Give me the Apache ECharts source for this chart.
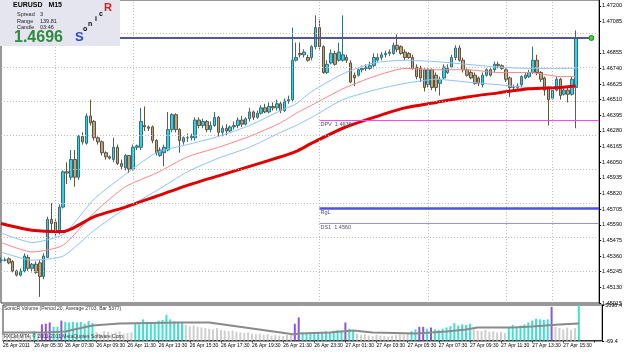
<!DOCTYPE html>
<html><head>
<meta charset="UTF-8">
<title>EURUSD M15</title>
<script src="https://cdn.jsdelivr.net/npm/echarts@6/dist/echarts.min.js"></script>
<style>html,body{margin:0;padding:0;background:#fff;}#main{width:625px;height:352px;}</style>
</head>
<body>
<div id="main"></div>
<script>
// EURUSD M15, 26 Apr 03:30 .. 27 Apr 16:30 (149 bars)
var openP = [1.4533,1.4533,1.4534,1.4532,1.4525,1.4522,1.4525,1.4535,1.4527,1.4530,
 1.4531,1.4521,1.4535,1.4563,1.4561,1.4553,1.4572,1.4598,1.4594,1.4607,
 1.4594,1.4624,1.4619,1.4639,1.4635,1.4623,1.4620,1.4612,1.4609,1.4607,
 1.4616,1.4604,1.4601,1.4610,1.4600,1.4616,1.4616,1.4632,1.4631,1.4631,
 1.4621,1.4610,1.4612,1.4614,1.4629,1.4640,1.4629,1.4620,1.4623,1.4623,
 1.4623,1.4636,1.4632,1.4635,1.4629,1.4632,1.4638,1.4627,1.4630,1.4628,
 1.4631,1.4632,1.4636,1.4633,1.4637,1.4642,1.4638,1.4641,1.4645,1.4642,
 1.4646,1.4645,1.4648,1.4643,1.4650,1.4651,1.4680,1.4685,1.4684,1.4682,
 1.4682,1.4690,1.4704,1.4690,1.4671,1.4678,1.4685,1.4680,1.4680,1.4682,
 1.4678,1.4669,1.4669,1.4673,1.4674,1.4674,1.4676,1.4680,1.4682,1.4684,
 1.4685,1.4685,1.4691,1.4690,1.4686,1.4685,1.4682,1.4675,1.4674,1.4673,
 1.4662,1.4673,1.4669,1.4663,1.4667,1.4671,1.4675,1.4682,1.4689,1.4680,
 1.4673,1.4671,1.4669,1.4667,1.4662,1.4669,1.4673,1.4673,1.4677,1.4676,
 1.4673,1.4667,1.4660,1.4660,1.4662,1.4667,1.4668,1.4671,1.4680,1.4671,
 1.4667,1.4660,1.4652,1.4658,1.4666,1.4655,1.4658,1.4655,1.4660];
var closeP = [1.4533,1.4533,1.4531,1.4525,1.4522,1.4525,1.4536,1.4527,1.4530,1.4524,
 1.4521,1.4536,1.4563,1.4560,1.4553,1.4572,1.4598,1.4597,1.4607,1.4594,
 1.4624,1.4620,1.4639,1.4634,1.4623,1.4620,1.4612,1.4609,1.4608,1.4616,
 1.4604,1.4602,1.4610,1.4600,1.4616,1.4617,1.4635,1.4631,1.4630,1.4621,
 1.4612,1.4614,1.4616,1.4629,1.4640,1.4629,1.4621,1.4623,1.4623,1.4624,
 1.4636,1.4632,1.4635,1.4629,1.4632,1.4638,1.4627,1.4630,1.4628,1.4631,
 1.4632,1.4636,1.4633,1.4637,1.4642,1.4638,1.4641,1.4645,1.4642,1.4646,
 1.4645,1.4648,1.4643,1.4650,1.4651,1.4680,1.4682,1.4684,1.4686,1.4680,
 1.4690,1.4704,1.4690,1.4671,1.4677,1.4685,1.4677,1.4686,1.4684,1.4680,
 1.4664,1.4667,1.4673,1.4674,1.4675,1.4676,1.4682,1.4682,1.4684,1.4685,
 1.4686,1.4691,1.4688,1.4685,1.4682,1.4682,1.4674,1.4668,1.4667,1.4660,
 1.4673,1.4660,1.4660,1.4666,1.4675,1.4674,1.4682,1.4689,1.4680,1.4673,
 1.4669,1.4667,1.4663,1.4663,1.4669,1.4673,1.4669,1.4677,1.4676,1.4674,
 1.4666,1.4660,1.4660,1.4661,1.4668,1.4669,1.4671,1.4680,1.4671,1.4666,
 1.4658,1.4651,1.4658,1.4666,1.4654,1.4658,1.4655,1.4666,1.46964];
var highP = [1.4535,1.4535,1.4535,1.4533,1.4526,1.4527,1.4538,1.4537,1.4531,1.4532,
 1.4533,1.4538,1.4565,1.4575,1.4563,1.4574,1.4599,1.4605,1.4614,1.4614,
 1.4625,1.4627,1.4641,1.4651,1.4636,1.4624,1.4621,1.4613,1.4610,1.4623,
 1.4618,1.4607,1.4611,1.4610,1.4618,1.4618,1.4645,1.4646,1.4632,1.4632,
 1.4622,1.4616,1.4618,1.4642,1.4641,1.4641,1.4630,1.4624,1.4626,1.4626,
 1.4638,1.4638,1.4637,1.4636,1.4635,1.4642,1.4639,1.4632,1.4633,1.4632,
 1.4635,1.4638,1.4639,1.4638,1.4645,1.4643,1.4643,1.4647,1.4648,1.4649,
 1.4649,1.4651,1.4650,1.4652,1.4654,1.4704,1.4693,1.4693,1.4688,1.4684,
 1.4691,1.4713,1.4710,1.4691,1.4680,1.4688,1.4687,1.4693,1.4713,1.4684,
 1.4680,1.4671,1.4674,1.4676,1.4677,1.4679,1.4685,1.4685,1.4686,1.4687,
 1.4688,1.4693,1.4699,1.4691,1.4688,1.4686,1.4684,1.4677,1.4676,1.4674,
 1.4674,1.4674,1.4671,1.4668,1.4677,1.4677,1.4684,1.4691,1.4691,1.4682,
 1.4674,1.4673,1.4671,1.4668,1.4671,1.4674,1.4674,1.4679,1.4679,1.4677,
 1.4674,1.4668,1.4662,1.4663,1.4669,1.4671,1.4673,1.4690,1.4684,1.4672,
 1.4668,1.4661,1.4661,1.4668,1.4667,1.4660,1.4660,1.4668,1.4702];
var lowP = [1.4531,1.4532,1.4530,1.4524,1.4521,1.4521,1.4524,1.4525,1.4524,1.4523,
 1.4506,1.4519,1.4535,1.4555,1.4551,1.4552,1.4571,1.4589,1.4592,1.4587,
 1.4592,1.4618,1.4618,1.4632,1.4621,1.4618,1.4610,1.4607,1.4607,1.4605,
 1.4603,1.4600,1.4599,1.4597,1.4599,1.4614,1.4614,1.4628,1.4628,1.4619,
 1.4610,1.4609,1.4602,1.4613,1.4627,1.4627,1.4612,1.4618,1.4620,1.4621,
 1.4621,1.4630,1.4630,1.4627,1.4627,1.4631,1.4624,1.4624,1.4625,1.4627,
 1.4629,1.4630,1.4631,1.4632,1.4635,1.4636,1.4637,1.4640,1.4641,1.4641,
 1.4643,1.4643,1.4641,1.4642,1.4648,1.4649,1.4679,1.4682,1.4682,1.4679,
 1.4680,1.4688,1.4688,1.4670,1.4670,1.4677,1.4676,1.4679,1.4679,1.4678,
 1.4663,1.4661,1.4668,1.4671,1.4672,1.4673,1.4674,1.4679,1.4680,1.4682,
 1.4683,1.4684,1.4686,1.4684,1.4680,1.4681,1.4673,1.4666,1.4664,1.4657,
 1.4660,1.4658,1.4657,1.4654,1.4666,1.4670,1.4674,1.4680,1.4679,1.4671,
 1.4668,1.4666,1.4662,1.4661,1.4660,1.4668,1.4668,1.4671,1.4674,1.4673,
 1.4664,1.4653,1.4658,1.4659,1.4660,1.4666,1.4667,1.4670,1.4669,1.4664,
 1.4654,1.4632,1.4651,1.4657,1.4651,1.4654,1.4649,1.4654,1.4630];

// moving averages / envelope, read at every few bars
var maIdx = [0,8,16,24,32,40,48,56,64,72,76,80,88,96,104,112,120,128,136,144,148];
var slowMA = [1.4560,1.4555,1.4554,1.4565,1.4572,1.4580,1.4588,1.4595,1.4602,1.4609,1.4613,1.4619,1.4630,1.4638,1.4645,1.4649,1.4653,1.4656,1.4659,1.4660,1.4661];
var fastMA = [1.4546,1.4539,1.4544,1.4568,1.4587,1.4597,1.4609,1.4616,1.4624,1.4634,1.4641,1.4647,1.4659,1.4668,1.4674,1.4673,1.4673,1.4671,1.4671,1.4668,1.4668];
var upperBand = [1.4553,1.4546,1.4552,1.4578,1.4596,1.4612,1.4618,1.4624,1.4632,1.4643,1.4648,1.4657,1.4670,1.4678,1.4680,1.4679,1.4677,1.4675,1.4674,1.4674,1.4674];
var lowerBand = [1.4539,1.4533,1.4536,1.4555,1.4571,1.4584,1.4598,1.4608,1.4616,1.4627,1.4632,1.4638,1.4651,1.4658,1.4663,1.4666,1.4664,1.4662,1.4660,1.4660,1.4660];

// SonicR volume
var vol = [900,1000,1100,800,900,1200,1000,900,1500,1000,
 2600,2700,2900,2200,2200,3200,3000,2900,3000,2900,
 3000,2700,3100,2800,1400,1100,1500,1400,1100,1300,
 1500,1100,1200,1300,2700,2600,3400,3000,2700,2700,
 3200,3300,4100,3400,3100,3000,2950,2500,2300,2400,
 2200,2100,2000,1900,1800,2000,1700,1600,1500,1600,
 1400,1300,1200,1300,1100,1000,1100,900,1000,800,
 900,800,700,900,900,2700,3700,1300,1200,1300,
 1200,1400,1300,1500,1400,1600,1700,1600,2900,1900,
 1700,1100,900,1000,800,700,900,800,700,600,
 800,900,1000,900,1100,1500,1800,2200,2200,1900,
 2100,1800,1700,1900,2100,2300,2800,2400,2600,2500,
 2700,1800,1600,1500,1700,1400,1500,1300,1400,1200,
 2200,2500,2200,2400,2600,2900,3200,3500,3400,3300,
 3400,5400,2200,2000,1800,2100,1700,2000,5698];
// g = below average, c = above average, p = climax
var volType = ['g','g','g','g','g','g','g','g','c','g',
 'p','p','p','c','c','p','c','c','c','c',
 'c','c','c','c','g','g','g','g','g','g',
 'g','g','g','g','c','c','c','c','c','c',
 'c','c','c','c','c','c','c','g','g','g',
 'g','g','g','g','g','g','g','g','g','g',
 'g','g','g','g','g','g','g','g','g','g',
 'g','g','g','g','g','p','p','c','c','c',
 'c','c','c','c','c','c','c','c','p','c',
 'c','g','g','g','g','g','g','g','g','g',
 'g','g','g','g','g','c','c','p','p','c',
 'p','c','c','c','c','c','c','c','c','c',
 'c','g','g','g','g','g','g','g','g','g',
 'c','c','c','c','c','c','c','c','c','c',
 'c','p','g','g','g','g','g','g','c'];
var avgIdx = [0,5,11,16,23,30,46,53,75,76,84,90,95,106,114,119,122,131,136,143,148];
var avgVal = [1280,1280,1280,1440,2400,2720,2880,2880,960,1120,1280,1600,1280,1120,1440,1760,2080,2080,2240,2560,2720];

var priceTicks = [1.45015,1.45130,1.45245,1.45360,1.45475,1.45590,1.45705,1.45820,1.45935,1.46050,
 1.46165,1.46280,1.46395,1.46510,1.46625,1.46740,1.46855,1.47085,1.47200];
var gridPrices = [1.4525,1.4550,1.4575,1.4600,1.4625,1.4650,1.4675,1.4700];
var gridBars = [14, 34, 82, 110, 130, 142];   // dotted vertical separators
var volTicks = [-69.4, 5698.4];
var timeLabels = ['26 Apr 2011','26 Apr 05:30','26 Apr 07:30','26 Apr 09:30','26 Apr 11:30','26 Apr 13:30',
 '26 Apr 15:30','26 Apr 17:30','26 Apr 19:30','26 Apr 21:30','26 Apr 23:30','27 Apr 01:30','27 Apr 03:30',
 '27 Apr 05:30','27 Apr 07:30','27 Apr 09:30','27 Apr 11:30','27 Apr 13:30','27 Apr 15:30'];
var lastPrice = 1.46964;
var levelNames = ['DPV  1.4636','RgL','DS1  1.4560'];
var levelPrices = [1.4636, 1.4571, 1.4560];
var dayStart = 82;    // first bar of 27 Apr
var nSlots = 155;     // bars + chart shift
var yMin = 1.45015, yMax = 1.47243;

// category axis: one slot per 15 minutes
var cats = [];
for (var i = 0; i < nSlots; i++) {
  var m = 3 * 60 + 30 + i * 15;
  var d = 26 + Math.floor(m / 1440); m = m % 1440;
  var hh = Math.floor(m / 60), mm = m % 60;
  cats.push(d + ' Apr ' + (hh < 10 ? '0' : '') + hh + ':' + (mm < 10 ? '0' : '') + mm);
}
var ohlc = [];
for (var i = 0; i < openP.length; i++) ohlc.push([openP[i], closeP[i], lowP[i], highP[i]]);
function pairs(idx, val) { var r = []; for (var i = 0; i < idx.length; i++) r.push([idx[i], val[i]]); return r; }

var volColor = {g: '#cfcfcf', c: '#3fe0d0', p: '#8a55e0'};
var volData = vol.map(function (v, i) { return {value: v, itemStyle: {color: volColor[volType[i]]}}; });

var FONT = 'Liberation Sans';
var levelColor = ['#ff44ff', '#4f4fee', '#8f8fff'];
var levelWidth = [1, 2.5, 1];
var levelLines = levelPrices.map(function (p, k) {
  return [{coord: [dayStart, p], lineStyle: {color: levelColor[k], width: levelWidth[k], type: 'solid'},
           label: {show: true, position: 'insideStartBottom', formatter: levelNames[k], color: '#505070', fontSize: 5.5, fontFamily: FONT, distance: 1}},
          {coord: [nSlots - 1, p]}];
});
var gridLines = gridPrices.map(function (p) {
  return [{coord: [0, p]}, {coord: [nSlots - 1, p]}];
}).concat(gridBars.map(function (b) {
  return [{coord: [b, yMin]}, {coord: [b, yMax]}];
}));

var chart = echarts.init(document.getElementById('main'), null, {renderer: 'canvas'});
chart.setOption({
  animation: false,
  backgroundColor: '#ffffff',
  grid: [
    {left: 1, right: 20, top: 0, height: 303, show: true, borderColor: '#333', borderWidth: 1},
    {left: 1, right: 20, top: 305, height: 36, show: true, borderColor: '#333', borderWidth: 1}
  ],
  xAxis: [
    {type: 'category', gridIndex: 0, data: cats, boundaryGap: false,
     axisLine: {show: false}, axisTick: {show: false}, axisLabel: {show: false}, splitLine: {show: false}},
    {type: 'category', gridIndex: 1, data: cats, boundaryGap: false,
     axisLine: {show: true, lineStyle: {color: '#333'}},
     axisTick: {show: true, length: 2, interval: function (i) { return i % 8 === 0; }, lineStyle: {color: '#333'}},
     axisLabel: {show: true, interval: function (i) { return i % 8 === 0; }, align: 'left', margin: 2,
       fontSize: 5, fontFamily: FONT, color: '#000',
       formatter: function (v, i) { return timeLabels[i / 8] || ''; }},
     splitLine: {show: false}}
  ],
  yAxis: [
    {type: 'value', gridIndex: 0, position: 'right', min: yMin, max: yMax, scale: true,
     axisLine: {show: true, lineStyle: {color: '#000'}},
     axisTick: {show: true, length: 2, customValues: priceTicks, lineStyle: {color: '#000'}},
     axisLabel: {show: true, customValues: priceTicks, margin: 3, fontSize: 5.5, fontFamily: FONT, color: '#000',
       formatter: function (v) { return v.toFixed(5); }},
     splitLine: {show: false}},
    {type: 'value', gridIndex: 1, position: 'right', min: -69.4, max: 5698.4,
     axisLine: {show: true, lineStyle: {color: '#000'}},
     axisTick: {show: true, length: 2, customValues: volTicks, lineStyle: {color: '#000'}},
     axisLabel: {show: true, customValues: volTicks, margin: 3, fontSize: 5.5, fontFamily: FONT, color: '#000',
       formatter: function (v) { return v.toFixed(1); }},
     splitLine: {show: false}}
  ],
  series: [
    {name: 'grid', type: 'line', xAxisIndex: 0, yAxisIndex: 0, data: [], silent: true, z: 1,
     markLine: {silent: true, symbol: 'none', animation: false, label: {show: false},
       lineStyle: {color: '#bdbdbd', type: [1, 2], width: 1},
       data: gridLines}},
    {name: 'EURUSD', type: 'candlestick', xAxisIndex: 0, yAxisIndex: 0, data: ohlc, barWidth: 3, z: 2,
     itemStyle: {color: '#2fd3e3', color0: '#b9a57f', borderColor: '#3b6d79', borderColor0: '#5f5440', borderWidth: 1}},
    {name: 'slow', type: 'line', xAxisIndex: 0, yAxisIndex: 0, data: pairs(maIdx, slowMA), smooth: 0.2,
     symbol: 'none', z: 4, lineStyle: {color: '#e00000', width: 3}},
    {name: 'fast', type: 'line', xAxisIndex: 0, yAxisIndex: 0, data: pairs(maIdx, fastMA), smooth: 0.2,
     symbol: 'none', z: 3, lineStyle: {color: '#ff8484', width: 1}},
    {name: 'upper', type: 'line', xAxisIndex: 0, yAxisIndex: 0, data: pairs(maIdx, upperBand), smooth: 0.2,
     symbol: 'none', z: 3, lineStyle: {color: '#8cc2ff', width: 1}},
    {name: 'lower', type: 'line', xAxisIndex: 0, yAxisIndex: 0, data: pairs(maIdx, lowerBand), smooth: 0.2,
     symbol: 'none', z: 3, lineStyle: {color: '#8cc2ff', width: 1}},
    {name: 'levels', type: 'line', xAxisIndex: 0, yAxisIndex: 0, data: [], silent: true, z: 5,
     markLine: {silent: true, symbol: 'none', animation: false,
       data: levelLines.concat([
         [{coord: [0, lastPrice], lineStyle: {color: '#55559a', width: 2, type: 'solid'}, label: {show: false}},
          {coord: [152, lastPrice]}],
         {yAxis: lastPrice, lineStyle: {opacity: 0},
          label: {show: true, position: 'end', distance: 1, formatter: lastPrice.toFixed(5), color: '#fff',
            backgroundColor: '#1d1d5a', padding: [1, 2, 1, 2], fontSize: 5.5, fontFamily: FONT}}
       ])},
     markPoint: {silent: true, symbol: 'circle', symbolSize: 5, label: {show: false},
       itemStyle: {color: '#33dd33', borderColor: '#1a7f1a', borderWidth: 1},
       data: [{coord: [152, lastPrice]}]}},
    {name: 'volume', type: 'bar', xAxisIndex: 1, yAxisIndex: 1, data: volData, barWidth: 2, z: 2},
    {name: 'avg', type: 'line', xAxisIndex: 1, yAxisIndex: 1, data: pairs(avgIdx, avgVal),
     symbol: 'none', z: 3, lineStyle: {color: '#8a8a8a', width: 2}}
  ],
  graphic: [
    {type: 'rect', left: 0, top: 0, z: 100, shape: {width: 120, height: 46}, style: {fill: '#e5e5ef'}},
    {type: 'text', left: 13, top: 2, z: 101, style: {text: 'EURUSD   M15', font: 'bold 7px ' + FONT, fill: '#000'}},
    {type: 'text', left: 17, top: 11, z: 101, style: {text: 'Spread', font: '5.5px ' + FONT, fill: '#222'}},
    {type: 'text', left: 40, top: 11, z: 101, style: {text: '3', font: '5.5px ' + FONT, fill: '#222'}},
    {type: 'text', left: 17, top: 18, z: 101, style: {text: 'Range', font: '5.5px ' + FONT, fill: '#222'}},
    {type: 'text', left: 40, top: 18, z: 101, style: {text: '139.81', font: '5.5px ' + FONT, fill: '#222'}},
    {type: 'text', left: 17, top: 24, z: 101, style: {text: 'Candle', font: '5.5px ' + FONT, fill: '#222'}},
    {type: 'text', left: 40, top: 24, z: 101, style: {text: '03:46', font: '5.5px ' + FONT, fill: '#222'}},
    {type: 'text', left: 14, top: 30, z: 101, style: {text: '1.4696', font: 'bold 16px ' + FONT, fill: '#2b8c3d'}},
    {type: 'text', left: 75, top: 31, z: 101, style: {text: 'S', font: 'bold 13px ' + FONT, fill: '#2a45dd'}},
    {type: 'text', left: 83, top: 26, z: 101, style: {text: 'o', font: 'bold 7px ' + FONT, fill: '#000'}},
    {type: 'text', left: 88, top: 21, z: 101, style: {text: 'n', font: 'bold 7px ' + FONT, fill: '#000'}},
    {type: 'text', left: 95, top: 16, z: 101, style: {text: 'i', font: 'bold 7px ' + FONT, fill: '#000'}},
    {type: 'text', left: 99, top: 11, z: 101, style: {text: 'c', font: 'bold 7px ' + FONT, fill: '#000'}},
    {type: 'text', left: 104, top: 2, z: 101, style: {text: 'R', font: 'bold 11px ' + FONT, fill: '#ee1111'}},
    {type: 'text', left: 4, top: 306, z: 101, style: {text: 'SonicR Volume (Period 20, Average 2703, Bar 5377)', font: '5px ' + FONT, fill: '#333'}},
    {type: 'text', left: 4, top: 334, z: 101, style: {text: 'FXCM MT4, \u00a9 2001-2011 MetaQuotes Software Corp.', font: '5px ' + FONT, fill: '#333'}}
  ]
});
</script>
</body>
</html>
